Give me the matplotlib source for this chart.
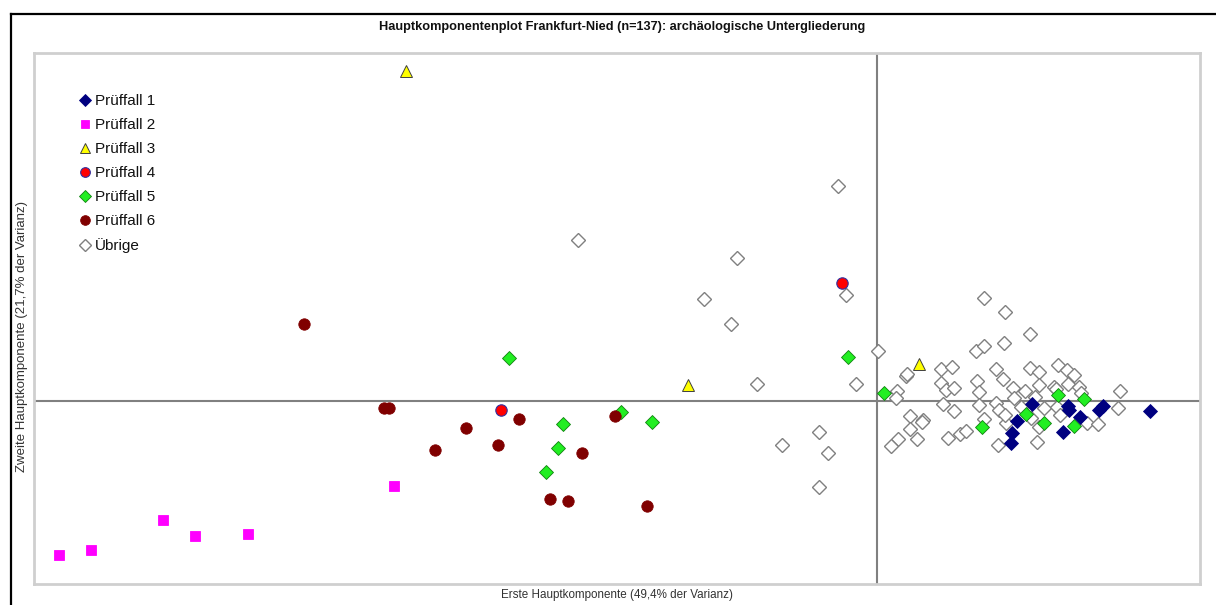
import matplotlib
matplotlib.use("Agg")
import matplotlib.pyplot as plt
from matplotlib.lines import Line2D

plt.rcParams['font.family'] = ['Liberation Sans', 'DejaVu Sans']

# ---- data (PCA scores) ----
p1_x = [1.55, 1.40, 1.35, 1.34, 1.91, 1.92, 1.86, 2.03, 2.22, 2.26, 2.73]
p1_y = [-0.03, -0.20, -0.32, -0.42, -0.05, -0.09, -0.31, -0.16, -0.09, -0.05, -0.10]

p2_x = [-8.18, -7.86, -7.14, -6.82, -6.29, -4.83]
p2_y = [-1.54, -1.49, -1.19, -1.35, -1.33, -0.85]

p3_x = [-4.71, -1.89, 0.42]
p3_y = [3.30, 0.16, 0.37]

p4_x = [-0.35, -3.76]
p4_y = [1.18, -0.09]

p5_x = [-3.68, -3.14, -3.19, -3.31, -2.56, -2.25, -0.29, 0.07, 1.05, 1.49, 1.81, 1.67, 2.07, 1.97]
p5_y = [0.43, -0.23, -0.47, -0.71, -0.11, -0.21, 0.44, 0.08, -0.26, -0.13, 0.06, -0.22, 0.02, -0.25]

p6_x = [-5.73, -4.93, -4.88, -4.42, -4.11, -3.79, -3.58, -2.95, -3.27, -3.09, -2.62, -2.30]
p6_y = [0.77, -0.07, -0.07, -0.49, -0.27, -0.44, -0.18, -0.52, -0.98, -1.00, -0.15, -1.05]

rest_x = [-2.99, -0.39, -1.40, -1.73, -1.46, -0.31, -1.20, -0.21, -0.95, -0.58, -0.49, -0.58,
          0.01, 1.07, 1.28, 1.53, 0.99, 1.07, 1.27, 0.64, 0.75, 1.19, 1.53, 1.62, 1.81, 1.90,
          1.97, 0.29, 0.30, 0.20, 0.19, 0.64, 0.69, 0.77, 1.00, 1.26, 1.02, 1.36, 1.48, 1.62,
          1.77, 1.79, 1.91, 2.02, 2.04, 2.43, 0.66, 0.77, 1.02, 1.19, 1.22, 1.37, 1.58, 1.67,
          1.44, 1.80, 1.83, 1.54, 1.62, 1.29, 1.28, 1.07, 0.33, 0.46, 0.45, 0.33, 0.40, 0.21,
          0.14, 0.71, 0.83, 0.89, 1.21, 1.60, 2.10, 2.21, 2.41]
rest_y = [1.61, 2.15, 1.43, 1.02, 0.77, 1.06, 0.17, 0.17, -0.44, -0.31, -0.52, -0.86,
          0.50, 1.03, 0.89, 0.67, 0.50, 0.55, 0.58, 0.32, 0.34, 0.32, 0.33, 0.29, 0.36, 0.31,
          0.26, 0.25, 0.27, 0.10, 0.03, 0.18, 0.11, 0.13, 0.20, 0.22, 0.09, 0.13, 0.10, 0.16,
          0.14, 0.12, 0.17, 0.14, 0.08, 0.10, -0.03, -0.10, -0.04, -0.02, -0.09, 0.03, 0.04, -0.07,
          -0.06, -0.06, -0.14, -0.17, -0.26, -0.22, -0.14, -0.18, -0.15, -0.19, -0.21, -0.28, -0.38, -0.38,
          -0.45, -0.37, -0.33, -0.30, -0.44, -0.41, -0.22, -0.23, -0.07]

labels = ["Prüffall 1", "Prüffall 2", "Prüffall 3", "Prüffall 4", "Prüffall 5", "Prüffall 6", "Übrige"]
title = "Hauptkomponentenplot Frankfurt-Nied (n=137): archäologische Untergliederung"
xlabel = "Erste Hauptkomponente (49,4% der Varianz)"
ylabel = "Zweite Hauptkomponente (21,7% der Varianz)"

W, H = 1216, 605
fig = plt.figure(figsize=(W / 100, H / 100), dpi=100)
fig.patch.set_facecolor('white')

def fx(px):
    return px / W

def fy(py):
    return 1 - py / H

ax = fig.add_axes([fx(34), fy(584), fx(1200) - fx(34), fy(53) - fy(584)])
ax.set_xlim(-8.43, 3.23)
ax.set_ylim(-1.83, 3.48)
ax.set_xticks([])
ax.set_yticks([])
for s in ax.spines.values():
    s.set_color('#cfcfcf')
    s.set_linewidth(2)

ax.axhline(0, color='#808080', lw=1.5, zorder=1)
ax.axvline(0, color='#808080', lw=1.5, zorder=1)

series = [
    (p1_x, p1_y, dict(marker='D', ms=6.8, mfc='#000080', mec='#000080', mew=0.6)),
    (p2_x, p2_y, dict(marker='s', ms=7.0, mfc='#ff00ff', mec='#ff00ff', mew=0.6)),
    (p3_x, p3_y, dict(marker='^', ms=8.2, mfc='#ffff00', mec='#404040', mew=0.7)),
    (p4_x, p4_y, dict(marker='o', ms=8.2, mfc='#ff0000', mec='#3030a0', mew=0.8)),
    (p5_x, p5_y, dict(marker='D', ms=6.8, mfc='#22ee22', mec='#108010', mew=0.6)),
    (p6_x, p6_y, dict(marker='o', ms=8.2, mfc='#800000', mec='#800000', mew=0.6)),
    (rest_x, rest_y, dict(marker='D', ms=6.8, mfc='white', mec='#808080', mew=1.0)),
]
zorders = [5, 5, 5, 6, 5, 5, 3]
handles = []
for (xs, ys, st), lab, z in zip(series, labels, zorders):
    h, = ax.plot(xs, ys, linestyle='none', label=lab, zorder=z, **st)
    handles.append(h)

leg = ax.legend(handles=handles, loc='upper left',
                bbox_to_anchor=(fx(80), fy(94)), bbox_transform=fig.transFigure,
                frameon=False, fontsize=11, handlelength=0.7, handletextpad=0.3,
                labelspacing=0.66, borderpad=0, borderaxespad=0, markerscale=0.85)
for t in leg.get_texts():
    t.set_color('#111111')

fig.text(fx(622), fy(27), title, ha='center', va='center', fontsize=9.2,
         fontweight='bold', color='#111111')
fig.text(fx(617), fy(595), xlabel, ha='center', va='center', fontsize=8.4, color='#333333')
fig.text(fx(22), fy(336), ylabel, ha='center', va='center', fontsize=9.5, color='#333333',
         rotation=90)

# outer chart frame (left and top edges)
fig.add_artist(Line2D([fx(11), fx(11)], [0, fy(14)], color='black', lw=1.6,
                      transform=fig.transFigure))
fig.add_artist(Line2D([fx(11), 1], [fy(14), fy(14)], color='black', lw=1.6,
                      transform=fig.transFigure))

fig.savefig('out.png', dpi=100, facecolor='white')
